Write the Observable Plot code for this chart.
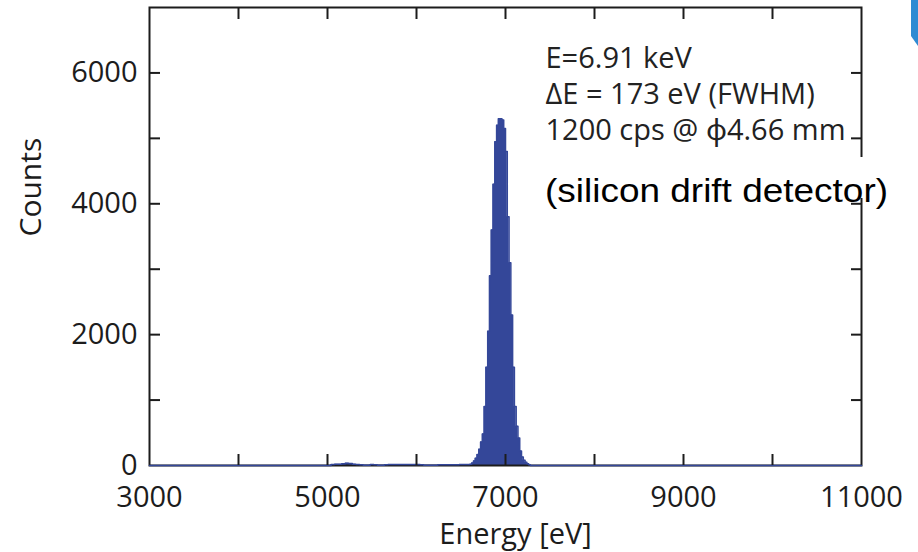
<!DOCTYPE html>
<html>
<head>
<meta charset="utf-8">
<script src="https://cdn.jsdelivr.net/npm/d3@7"></script>
<script src="https://cdn.jsdelivr.net/npm/@observablehq/plot@0.6"></script>
<style>
  html, body { margin: 0; padding: 0; background: #fff; }
  #wrap { position: relative; width: 918px; height: 552px; overflow: hidden; }
  #wrap svg { display: block; }
  #sddbox { position: absolute; left: 540px; top: 157px; width: 352px; height: 41px; background: #fff; }
  #sdd { position: absolute; left: 545px; top: 172px; font-family: "Liberation Sans", Arial, sans-serif;
         font-size: 33px; line-height: 1.15; color: #000; white-space: nowrap;
         transform: scaleX(1.12); transform-origin: 0 0; }
  #corner { position: absolute; left: 911px; top: 0; width: 7px; height: 46px; background: #2e8bd3;
            clip-path: polygon(0 0, 100% 0, 100% 100%, 0 78%); }
</style>
</head>
<body>
<div id="wrap"></div>
<script>
// Spectrum: bin start energy (eV) and counts
const energy = [3000,
  5040, 5080, 5120, 5160, 5200, 5240, 5280, 5320, 5360, 5400, 5440, 5480, 5520, 5560, 5600,
  5640, 5680, 5720, 5760, 5800, 5840, 5880, 5920, 5960, 6000, 6040, 6080, 6120, 6160, 6200,
  6240, 6280, 6320, 6360, 6400, 6440, 6480, 6520, 6560,
  6600, 6620, 6640, 6660, 6680, 6700, 6720, 6740, 6760, 6780, 6800, 6820, 6840, 6860, 6880,
  6900, 6920, 6940, 6960, 6980, 7000, 7020, 7040, 7060, 7080, 7100, 7120, 7140, 7160, 7180,
  7200, 7220, 7240, 7260, 7280, 11000];
const counts = [0,
  15, 18, 20, 25, 35, 30, 18, 15, 12, 4, 3, 15, 12, 4, 3,
  12, 14, 15, 15, 16, 15, 15, 14, 15, 14, 12, 3, 2, 2, 3,
  12, 12, 12, 12, 13, 13, 14, 15, 16,
  20, 40, 70, 110, 170, 250, 360, 480, 900, 1500, 2050, 2900, 3600, 4300, 4950,
  5200, 5300, 5300, 5280, 5150, 4800, 3800, 3100, 2300, 1500, 900, 600, 420, 220, 130,
  80, 50, 25, 10, 0, 0];

const xLabelTicks = [3000, 5000, 7000, 9000, 11000];
const yLabelTicks = [0, 2000, 4000, 6000];
const xTickMarks = [4000, 5000, 6000, 7000, 8000, 9000, 10000];
const yTickMarks = [1000, 2000, 3000, 4000, 5000, 6000];
const notes = ["E=6.91 keV", "\u0394E = 173 eV (FWHM)", "1200 cps @ \u03d54.66 mm"];
const detectorNote = "(silicon drift detector)";
const xTitle = "Energy [eV]";
const yTitle = "Counts";

const data = energy.map((e, i) => ({energy: e, counts: counts[i]}));
const fillColor = "#344799";
const ink = "#1c1c1c";
const font = "'Open Sans', 'Noto Sans', sans-serif";

const chart = Plot.plot({
  width: 918,
  height: 552,
  marginLeft: 149,
  marginRight: 57,
  marginTop: 7,
  marginBottom: 87,
  style: {fontFamily: font, color: ink, background: "#fff"},
  x: {domain: [3000, 11000]},
  y: {domain: [0, 7000]},
  marks: [
    Plot.areaY(data, {x: "energy", y: "counts", curve: "step-after", fill: fillColor}),
    Plot.frame({stroke: ink, strokeWidth: 2}),
    Plot.lineY(data, {x: "energy", y: "counts", curve: "step-after", stroke: fillColor, strokeWidth: 1.5}),
    Plot.axisX(xTickMarks, {anchor: "bottom", tickSize: -11, fill: "none", label: null, stroke: ink, strokeWidth: 2}),
    Plot.axisX(xTickMarks, {anchor: "top", tickSize: -11, fill: "none", label: null, stroke: ink, strokeWidth: 2}),
    Plot.axisY(yTickMarks, {anchor: "left", tickSize: -11, fill: "none", label: null, stroke: ink, strokeWidth: 2}),
    Plot.axisY(yTickMarks, {anchor: "right", tickSize: -11, fill: "none", label: null, stroke: ink, strokeWidth: 2}),
    Plot.axisX(xLabelTicks, {anchor: "bottom", tickSize: 0, tickPadding: 21, fontSize: 29, label: null, tickFormat: d => String(d)}),
    Plot.axisY(yLabelTicks, {anchor: "left", tickSize: 0, tickPadding: 12, fontSize: 29, label: null, tickFormat: d => String(d)}),
    Plot.text([xTitle], {frameAnchor: "bottom", dx: 10, dy: 78, lineAnchor: "bottom", fontSize: 29, fill: ink}),
    Plot.text([yTitle], {frameAnchor: "left", dx: -118, rotate: -90, lineAnchor: "middle", fontSize: 30, fill: ink}),
    Plot.text([notes.join("\n")], {frameAnchor: "top-left", dx: 396, dy: 35, lineAnchor: "top", textAnchor: "start",
      lineHeight: 1.24, fontSize: 29, fill: "#222"})
  ]
});

const wrap = document.getElementById("wrap");
wrap.appendChild(chart);
const box = document.createElement("div"); box.id = "sddbox"; wrap.appendChild(box);
const sdd = document.createElement("div"); sdd.id = "sdd"; sdd.textContent = detectorNote; wrap.appendChild(sdd);
const corner = document.createElement("div"); corner.id = "corner"; wrap.appendChild(corner);
</script>
</body>
</html>
